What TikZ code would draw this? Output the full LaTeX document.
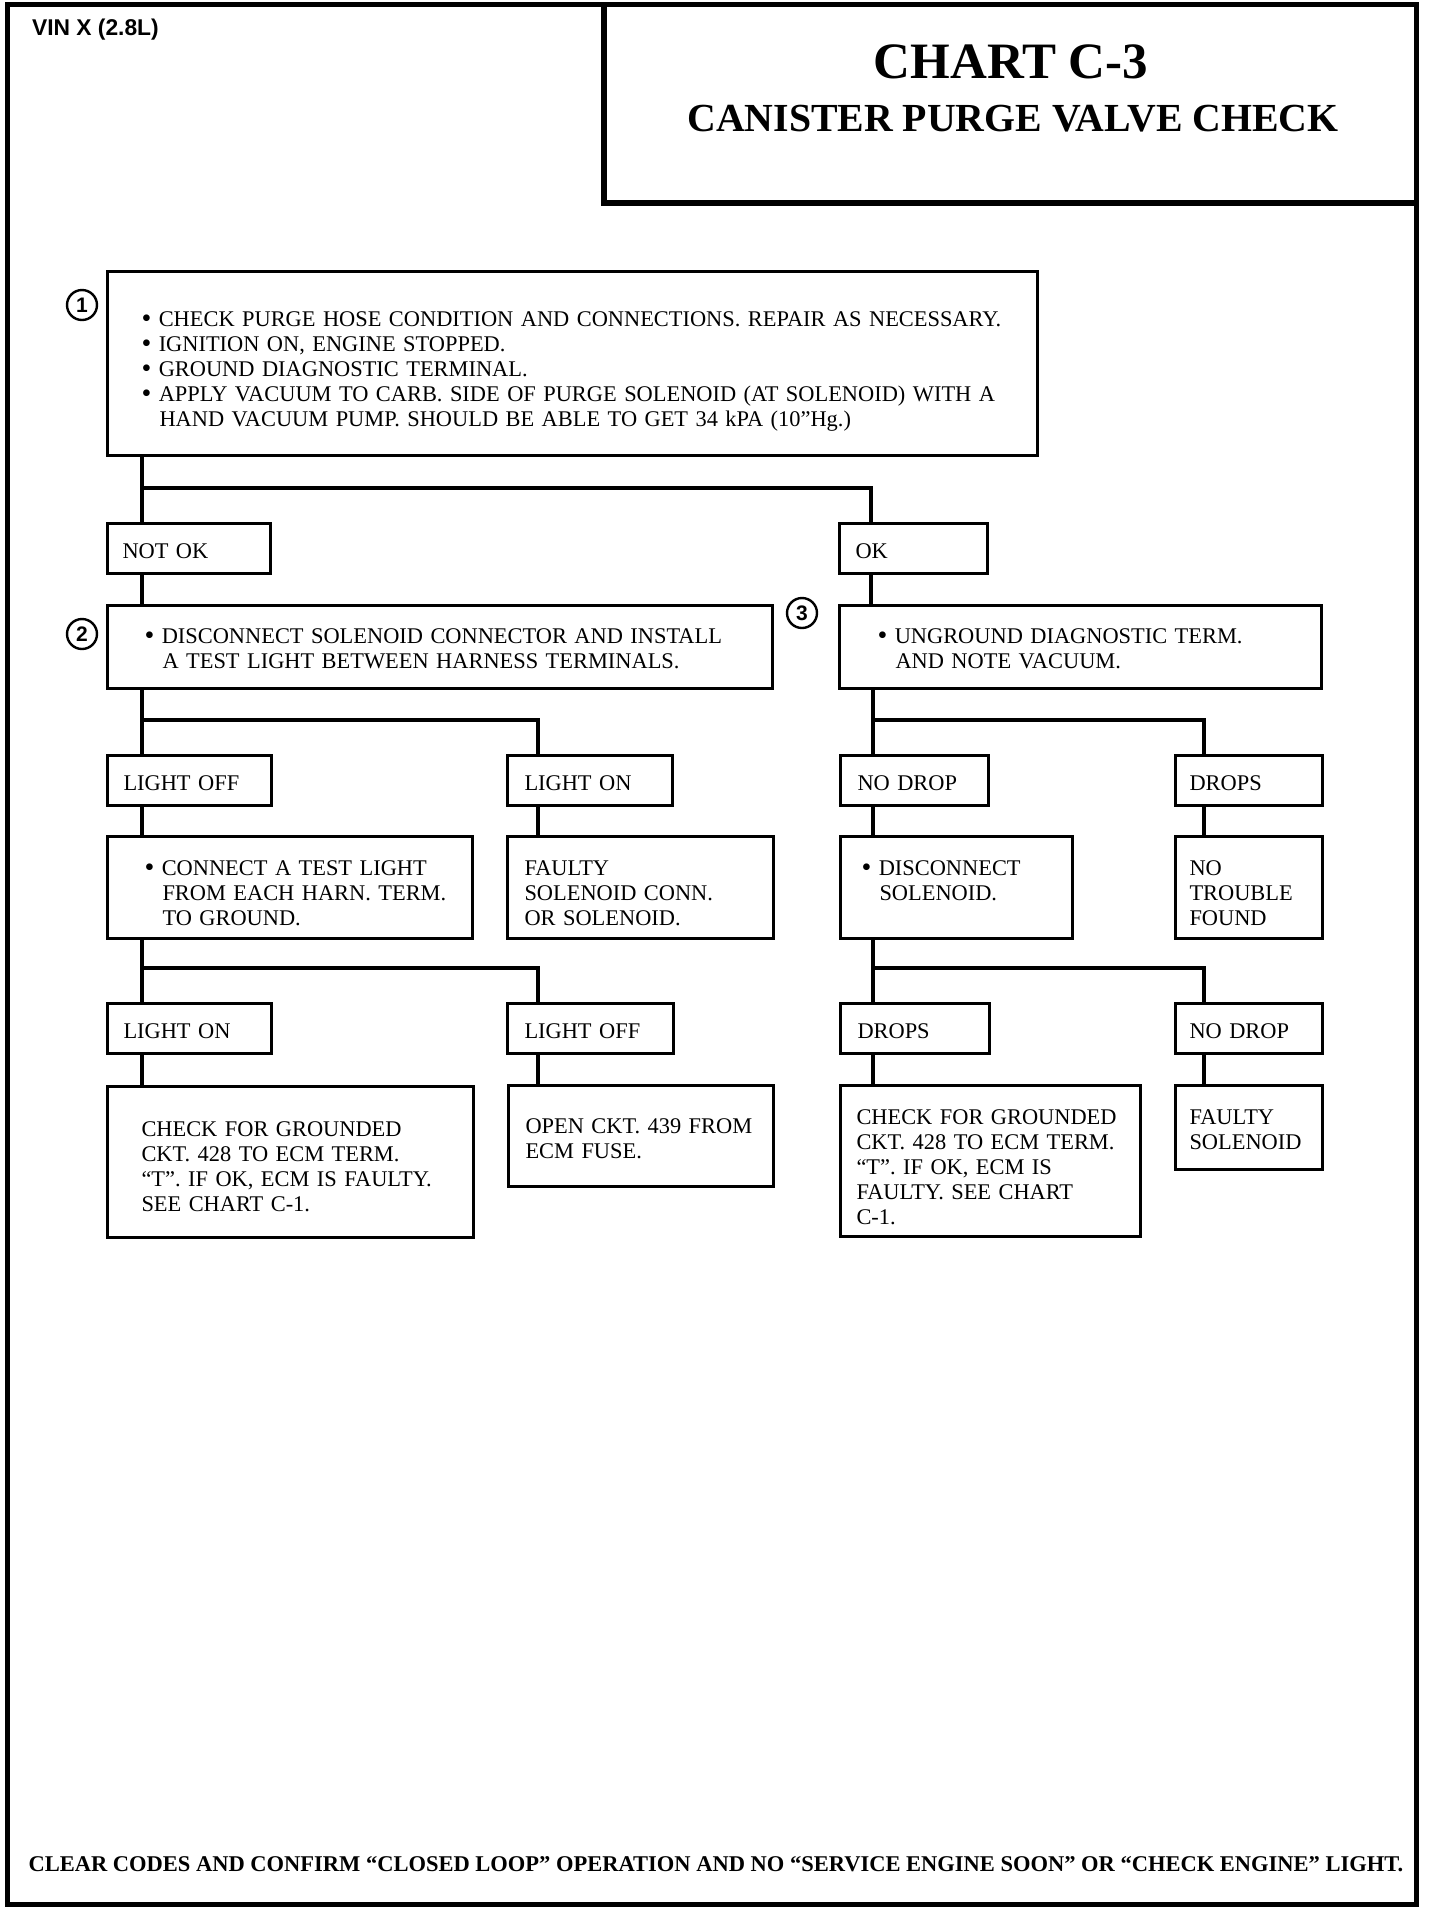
\documentclass[tikz,border=0pt]{standalone}
\usepackage{fontspec}
\setmainfont{Liberation Serif}
\newfontfamily\vinfont{Liberation Sans}
\usepackage{tikz}
\usetikzlibrary{calc}
\tikzset{%
  chartbox/.style={draw=black, line width=1.5pt, anchor=north west, align=left,
    inner ysep=0pt, font=\fontsize{11.2}{12.5}\selectfont},
  answer/.style={chartbox, minimum height=25pt, text height=17.5pt, text depth=7.5pt},
  tpos/.style 2 args={text height=#1, text depth=#2},
  link/.style={line width=2.1pt},
  frame/.style={line width=2.5pt},
  stepnum/.style={circle, draw=black, line width=1.2pt, minimum size=15pt,
    inner sep=0pt, font=\vinfont\bfseries\fontsize{10.5}{10.5}\selectfont}
}
\newcommand{\cbul}{\raisebox{-0.4pt}{\fontsize{14}{14}\selectfont\textbullet}\ }
\newcommand{\cind}{\hspace*{9pt}}

\begin{document}
\begin{tikzpicture}[x=0.5pt,y=-0.5pt]
    \useasboundingbox (0,0) rectangle (1440,1908);
    \draw[frame] (7,4) rectangle (1416,1904);
    \draw[frame, line width=3pt] (604,4) -- (604,203) -- (1416,203);
    \node[anchor=base west] (vin) at (25,35) {\vinfont\bfseries\fontsize{11.4}{11.4}\selectfont VIN X (2.8L)};
    \node[anchor=base] (chart) at (1011,78) {\bfseries\fontsize{25.5}{25.5}\selectfont CHART C-3};
    \node[anchor=base] (subject) at (1013,131) {\bfseries\fontsize{19.9}{19.9}\selectfont CANISTER PURGE VALVE CHECK};
    % step 1
    \node[stepnum] (n1) at (82,305) {1};
    \node[chartbox, text width=431pt, inner xsep=17pt, minimum height=92pt, tpos={27.5pt}{64.5pt}] (b1) at (106,270)
      {\mbox{\cbul CHECK PURGE HOSE CONDITION AND CONNECTIONS. REPAIR AS NECESSARY.}\\
       \mbox{\cbul IGNITION ON, ENGINE STOPPED.}\\
       \mbox{\cbul GROUND DIAGNOSTIC TERMINAL.}\\
       \mbox{\cbul APPLY VACUUM TO CARB. SIDE OF PURGE SOLENOID (AT SOLENOID) WITH A}\\
       \mbox{\cind HAND VACUUM PUMP. SHOULD BE ABLE TO GET 34 kPA (10''Hg.)}};
    \node[answer, text width=66.5pt, inner xsep=7.5pt] (notok) at (106,522) {NOT OK};
    \node[answer, text width=58pt, inner xsep=8pt] (ok) at (838,522) {OK};
    % step 2 and 3
    \node[stepnum] (n2) at (82,634) {2};
    \node[chartbox, text width=295.5pt, inner xsep=18.5pt, minimum height=41.5pt, tpos={19pt}{22.5pt}] (b2) at (106,604)
      {\mbox{\cbul DISCONNECT SOLENOID CONNECTOR AND INSTALL}\\
       \mbox{\cind A TEST LIGHT BETWEEN HARNESS TERMINALS.}};
    \node[stepnum] (n3) at (802,613) {3};
    \node[chartbox, text width=203pt, inner xsep=19pt, minimum height=41.5pt, tpos={19pt}{22.5pt}] (b3) at (838,604)
      {\mbox{\cbul UNGROUND DIAGNOSTIC TERM.}\\
       \mbox{\cind AND NOTE VACUUM.}};
    \node[answer, text width=66pt, inner xsep=8pt] (loff1) at (106,754) {LIGHT OFF};
    \node[answer, text width=65.5pt, inner xsep=8.5pt] (lon1) at (506,754) {LIGHT ON};
    \node[answer, text width=57pt, inner xsep=8.5pt] (nodrop1) at (839,754) {NO DROP};
    \node[answer, text width=59.5pt, inner xsep=7pt] (drops1) at (1174,754) {DROPS};
    \node[chartbox, text width=145.5pt, inner xsep=18.5pt, minimum height=51pt, tpos={19.5pt}{31.5pt}] (bA) at (106,835)
      {\mbox{\cbul CONNECT A TEST LIGHT}\\
       \mbox{\cind FROM EACH HARN. TERM.}\\
       \mbox{\cind TO GROUND.}};
    \node[chartbox, text width=116pt, inner xsep=8.5pt, minimum height=51pt, tpos={19.5pt}{31.5pt}] (bB) at (506,835)
      {FAULTY\\ \mbox{SOLENOID CONN.}\\ \mbox{OR SOLENOID.}};
    \node[chartbox, text width=95pt, inner xsep=10.5pt, minimum height=51pt, tpos={19.5pt}{31.5pt}] (bC) at (839,835)
      {\mbox{\cbul DISCONNECT}\\
       \mbox{\cind SOLENOID.}};
    \node[chartbox, text width=59.5pt, inner xsep=7pt, minimum height=51pt, tpos={19.5pt}{31.5pt}] (bD) at (1174,835)
      {NO\\ TROUBLE\\ FOUND};
    \node[answer, text width=66pt, inner xsep=8pt] (lon2) at (106,1002) {LIGHT ON};
    \node[answer, text width=66pt, inner xsep=8.5pt] (loff2) at (506,1002) {LIGHT OFF};
    \node[answer, text width=57.5pt, inner xsep=8.5pt] (drops2) at (839,1002) {DROPS};
    \node[answer, text width=59.5pt, inner xsep=7pt] (nodrop2) at (1174,1002) {NO DROP};
    \node[chartbox, text width=149pt, inner xsep=17pt, minimum height=75.5pt, tpos={25pt}{50.5pt}] (bE) at (106,1085)
      {\mbox{CHECK FOR GROUNDED}\\
       \mbox{CKT. 428 TO ECM TERM.}\\
       \mbox{``T''. IF OK, ECM IS FAULTY.}\\
       \mbox{SEE CHART C-1.}};
    \node[chartbox, text width=115.5pt, inner xsep=8.5pt, minimum height=50.5pt, tpos={24pt}{26.5pt}] (bF) at (507,1084)
      {\mbox{OPEN CKT. 439 FROM}\\
       \mbox{ECM FUSE.}};
    \node[chartbox, text width=134pt, inner xsep=8pt, minimum height=75.5pt, tpos={19.5pt}{56pt}] (bG) at (839,1084)
      {\mbox{CHECK FOR GROUNDED}\\
       \mbox{CKT. 428 TO ECM TERM.}\\
       \mbox{``T''. IF OK, ECM IS}\\
       \mbox{FAULTY. SEE CHART}\\
       \mbox{C-1.}};
    \node[chartbox, text width=59.5pt, inner xsep=7pt, minimum height=42pt, tpos={19.5pt}{22.5pt}] (bH) at (1174,1084)
      {FAULTY\\ SOLENOID};
    % connectors
    \coordinate (split1) at (142,488);
    \coordinate (split1r) at (871,488);
    \draw[link] (b1.south -| split1) -- (notok.north -| split1);
    \draw[link] (split1) -- (split1r) -- (ok.north -| split1r);
    \draw[link] (notok.south -| split1) -- (b2.north -| split1);
    \draw[link] (ok.south -| split1r) -- (b3.north -| split1r);
    \coordinate (split2) at (142,720);
    \coordinate (split2r) at (538,720);
    \draw[link] (b2.south -| split2) -- (loff1.north -| split2);
    \draw[link] (split2) -- (split2r) -- (lon1.north -| split2r);
    \draw[link] (loff1.south -| split2) -- (bA.north -| split2);
    \draw[link] (lon1.south -| split2r) -- (bB.north -| split2r);
    \coordinate (split3) at (873,720);
    \coordinate (split3r) at (1204,720);
    \draw[link] (b3.south -| split3) -- (nodrop1.north -| split3);
    \draw[link] (split3) -- (split3r) -- (drops1.north -| split3r);
    \draw[link] (nodrop1.south -| split3) -- (bC.north -| split3);
    \draw[link] (drops1.south -| split3r) -- (bD.north -| split3r);
    \coordinate (split4) at (142,968);
    \coordinate (split4r) at (538,968);
    \draw[link] (bA.south -| split4) -- (lon2.north -| split4);
    \draw[link] (split4) -- (split4r) -- (loff2.north -| split4r);
    \draw[link] (lon2.south -| split4) -- (bE.north -| split4);
    \draw[link] (loff2.south -| split4r) -- (bF.north -| split4r);
    \coordinate (split5) at (873,968);
    \coordinate (split5r) at (1204,968);
    \draw[link] (bC.south -| split5) -- (drops2.north -| split5);
    \draw[link] (split5) -- (split5r) -- (nodrop2.north -| split5r);
    \draw[link] (drops2.south -| split5) -- (bG.north -| split5);
    \draw[link] (nodrop2.south -| split5r) -- (bH.north -| split5r);
    \node[anchor=base] (foot) at (716,1871) {\bfseries\fontsize{11.25}{11.25}\selectfont CLEAR CODES AND CONFIRM ``CLOSED LOOP'' OPERATION AND NO ``SERVICE ENGINE SOON'' OR ``CHECK ENGINE'' LIGHT.};
\end{tikzpicture}
\end{document}
